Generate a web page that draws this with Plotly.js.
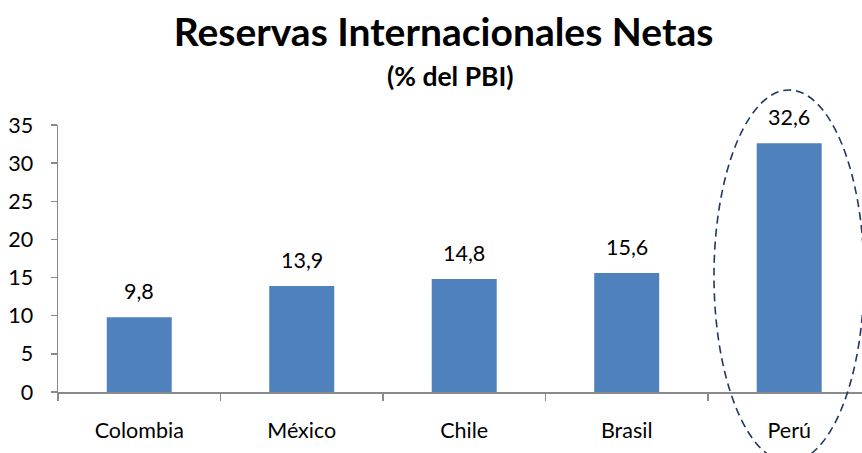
<!DOCTYPE html>
<html>
<head>
<meta charset="utf-8">
<script src="https://cdn.plot.ly/plotly-3.0.1.min.js"></script>
<style>html,body{margin:0;padding:0;overflow:hidden;background:#fff}</style>
</head>
<body>
<div id="chart" style="width:862px;height:453px"></div>
<script>
const categories = ["Colombia", "México", "Chile", "Brasil", "Perú"];
const values = [9.8, 13.9, 14.8, 15.6, 32.6];
const yTicks = [0, 5, 10, 15, 20, 25, 30, 35];

const font = "Lato, 'Open Sans', sans-serif";
const axisGray = "#8a8a8a";

const trace = {
  type: "bar",
  x: categories,
  y: values,
  width: 0.4,
  marker: {color: "#4F81BD"},
  hoverinfo: "none"
};

const valueLabels = categories.map((c, i) => ({
  x: c, y: values[i], xref: "x", yref: "y",
  text: values[i].toFixed(1).replace(".", ","),
  showarrow: false, yanchor: "middle", xanchor: "center", yshift: 26,
  font: {family: font, size: 21.5, color: "#000"}
}));

const layout = {
  width: 862,
  height: 453,
  margin: {l: 58, r: 0, t: 125, b: 61},
  paper_bgcolor: "#fff",
  plot_bgcolor: "#fff",
  separators: ",.",
  showlegend: false,
  title: {
    text: "<b>Reservas Internacionales Netas</b>",
    font: {family: font, size: 39, color: "#000"},
    xref: "container", yref: "container",
    x: 0.5145, xanchor: "center",
    y: 1 - 32/453, yanchor: "middle"
  },
  annotations: [{
    text: "<b>(% del PBI)</b>",
    xref: "paper", yref: "paper",
    x: (450 - 58) / 804, xanchor: "center",
    y: (392 - 76) / 267, yanchor: "middle",
    showarrow: false,
    font: {family: font, size: 26.5, color: "#000"}
  }].concat(valueLabels),
  xaxis: {
    type: "category",
    range: [-0.5, 4.448],
    showline: true, linecolor: axisGray, linewidth: 1.5,
    ticks: "outside", tickson: "boundaries", ticklen: 7, tickcolor: axisGray, tickwidth: 1.5,
    showgrid: false, zeroline: false,
    tickfont: {family: font, size: 21.5, color: "#000"},
    ticklabelstandoff: 19,
    fixedrange: true
  },
  yaxis: {
    range: [0, 35],
    tickvals: yTicks,
    ticktext: yTicks.map(String),
    showline: true, linecolor: axisGray, linewidth: 1.5,
    ticks: "outside", ticklen: 6, tickcolor: axisGray, tickwidth: 1.5,
    showgrid: false, zeroline: false,
    tickfont: {family: font, size: 21.5, color: "#000"},
    ticklabelstandoff: 13,
    fixedrange: true
  },
  shapes: [{
    type: "circle",
    xref: "paper", yref: "paper",
    x0: (714 - 58) / 804, x1: (864 - 58) / 804,
    y0: (392 - 462) / 267, y1: (392 - 90) / 267,
    line: {color: "#1F3864", width: 1.6, dash: "8px,5px"},
    fillcolor: "rgba(0,0,0,0)"
  }]
};

Plotly.newPlot("chart", [trace], layout, {staticPlot: true, displayModeBar: false});
</script>
</body>
</html>
